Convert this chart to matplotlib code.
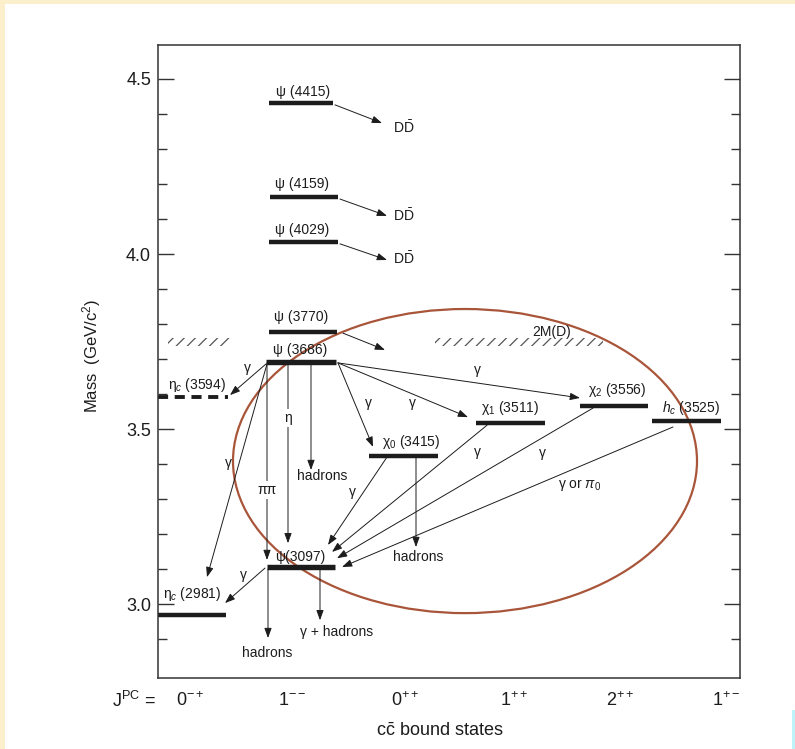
import matplotlib
matplotlib.use("Agg")
import matplotlib.pyplot as plt
from matplotlib.patches import Rectangle, Ellipse
import numpy as np

plt.rcParams['font.family'] = ['Liberation Sans', 'DejaVu Sans']
plt.rcParams['mathtext.fontset'] = 'custom'
plt.rcParams['mathtext.rm'] = 'Liberation Sans'
plt.rcParams['mathtext.it'] = 'Liberation Sans:italic'
plt.rcParams['mathtext.bf'] = 'Liberation Sans:bold'
plt.rcParams['hatch.linewidth'] = 0.9

# ---------------- data ----------------
state_labels = ['ψ (4415)', 'ψ (4159)', 'ψ (4029)', 'ψ (3770)', 'ψ (3686)',
                'η$_c$ (3594)', 'χ$_0$ (3415)', 'χ$_1$ (3511)', 'χ$_2$ (3556)',
                '$h_c$ (3525)', 'ψ(3097)', 'η$_c$ (2981)']
state_mass = [4.431, 4.163, 4.034, 3.777, 3.691, 3.591, 3.423, 3.517, 3.566,
              3.523, 3.106, 2.969]
state_x0 = [1.11, 1.12, 1.11, 1.11, 1.08, 0.00, 2.11, 3.18, 4.22, 4.94, 1.09, 0.00]
state_x1 = [1.75, 1.80, 1.80, 1.79, 1.78, 0.70, 2.80, 3.87, 4.90, 5.63, 1.77, 0.68]

jpc_labels = [r'$0^{-+}$', r'$1^{--}$', r'$0^{++}$', r'$1^{++}$', r'$2^{++}$', r'$1^{+-}$']
jpc_x = [0.18, 1.20, 2.33, 3.42, 4.48, 5.54]

ytick_values = [3.0, 3.5, 4.0, 4.5]
ytick_labels = ['3.0', '3.5', '4.0', '4.5']

# transitions: (x_start, m_start, x_end, m_end)
transitions = [
    (1.77, 4.426, 2.24, 4.374),
    (1.82, 4.157, 2.29, 4.109),
    (1.82, 4.029, 2.29, 3.983),
    (1.85, 3.774, 2.27, 3.726),
    (1.08, 3.686, 0.72, 3.597),
    (1.80, 3.689, 2.15, 3.449),
    (1.80, 3.689, 3.10, 3.534),
    (1.80, 3.689, 4.22, 3.589),
    (1.30, 3.686, 1.30, 3.174),
    (1.53, 3.686, 1.53, 3.383),
    (1.09, 3.689, 1.09, 3.126),
    (1.09, 3.686, 0.49, 3.077),
    (1.07, 3.103, 0.67, 3.003),
    (1.10, 3.100, 1.10, 2.903),
    (1.62, 3.100, 1.62, 2.954),
    (2.29, 3.420, 1.70, 3.169),
    (2.58, 3.420, 2.58, 3.163),
    (3.29, 3.511, 1.74, 3.149),
    (4.35, 3.560, 1.79, 3.131),
    (5.15, 3.506, 1.84, 3.106),
]

# decay-product / transition labels: (text, x, mass)
decay_texts = [
    (r'D$\bar{\mathrm{D}}$', 2.46, 4.360),
    (r'D$\bar{\mathrm{D}}$', 2.46, 4.111),
    (r'D$\bar{\mathrm{D}}$', 2.46, 3.986),
    ('γ', 0.89, 3.674), ('γ', 2.10, 3.574), ('γ', 2.54, 3.574),
    ('γ', 3.19, 3.669), ('γ', 0.70, 3.403), ('γ', 0.85, 3.083),
    ('γ', 1.94, 3.320), ('γ', 3.19, 3.434), ('γ', 3.84, 3.431),
    (r'γ or $\pi_0$', 4.22, 3.340),
    ('hadrons', 1.64, 3.366), ('hadrons', 2.60, 3.134),
    ('hadrons', 1.09, 2.860), ('γ + hadrons', 1.79, 2.920),
    ('2M(D)', 3.94, 3.777),
]
onlines_texts = [('η', 1.30, 3.531), ('ππ', 1.09, 3.326)]

threshold_mass = 3.749
threshold_spans = [(0.10, 0.72), (2.77, 4.45)]

# ---------------- figure ----------------
W, H = 795, 749
fig = plt.figure(figsize=(W / 100, H / 100), dpi=100, facecolor='white')
ax = fig.add_axes([158 / W, 1 - 678 / H, 582 / W, 633 / H])
ax.set_xlim(0, 5.82)
ax.set_ylim(2.789, 4.597)

ink = '#1c1c1c'
for sp in ax.spines.values():
    sp.set_linewidth(1.1)
    sp.set_color('#333333')

ax.set_xticks([])
ax.set_yticks(ytick_values)
ax.set_yticklabels(ytick_labels, fontsize=13, color=ink)
minor = [v for v in np.round(np.arange(2.9, 4.55, 0.1), 2) if v not in ytick_values]
ax.set_yticks(minor, minor=True)
ax.tick_params(axis='y', which='major', direction='in', length=11.5, width=1.0,
               right=True, pad=5, color='#333333')
ax.tick_params(axis='y', which='minor', direction='in', length=6.5, width=1.0,
               right=True, color='#333333')

# levels
for i, (lab, m, a, b) in enumerate(zip(state_labels, state_mass, state_x0, state_x1)):
    lw = 3.9 if lab in ('ψ (3686)', 'ψ(3097)') else 3.2
    if lab == 'η$_c$ (3594)':
        ax.hlines(m, a, b, colors=ink, lw=2.8, linestyles=(0, (2.6, 1.7)))
    else:
        ax.hlines(m, a, b, colors=ink, lw=lw, capstyle='butt')

label_offsets = [(2, 11), (-2, 13), (-1, 12), (-2, 15), (-1, 12), (4, 12),
                 (8, 14), (0, 15), (3, 16), (5, 13), (-1, 10), (0, 21)]
for lab, m, a, b, (dx, dy) in zip(state_labels, state_mass, state_x0, state_x1, label_offsets):
    ax.annotate(lab, xy=((a + b) / 2, m), xytext=(dx, dy), textcoords='offset pixels',
                ha='center', va='center', fontsize=10, color=ink)

# threshold hatching
for a, b in threshold_spans:
    ax.add_patch(Rectangle((a, threshold_mass - 0.011), b - a, 0.022, facecolor='none',
                           edgecolor='#555555', lw=0, hatch='///'))

# transitions
for xs, ms, xe, me in transitions:
    ax.annotate('', xy=(xe, me), xytext=(xs, ms),
                arrowprops=dict(arrowstyle='-|>,head_length=0.6,head_width=0.22',
                                lw=0.7, color=ink, shrinkA=0, shrinkB=0))

for t, x, m in decay_texts:
    ax.text(x, m, t, ha='center', va='center', fontsize=10, color=ink)
for t, x, m in onlines_texts:
    ax.text(x, m, t, ha='center', va='center', fontsize=10, color=ink,
            bbox=dict(facecolor='white', edgecolor='none', pad=1.5))

# highlight ellipse
ax.add_patch(Ellipse((3.07, 3.4086), 4.64, 0.8686, facecolor='none',
                     edgecolor='#A9553A', lw=1.6))

# bottom labels
ax.text(-0.46, -0.036, r'$\mathrm{J}^{\mathrm{PC}}$ =', transform=ax.get_xaxis_transform(),
        ha='left', va='center', fontsize=13, color=ink)
for t, x in zip(jpc_labels, jpc_x):
    ax.text(x, -0.036, t, transform=ax.get_xaxis_transform(), ha='left', va='center',
            fontsize=13, color=ink)
fig.text(440 / W, 1 - 731 / H, r'c$\bar{\mathrm{c}}$ bound states', ha='center', va='center',
         fontsize=13, color=ink)
fig.text(92 / W, 1 - 356 / H, r'Mass  (GeV/c$^{2}$)', rotation=90, ha='center',
         va='center', fontsize=12, color=ink)

# page decoration strips
fig.patches.append(Rectangle((0, 0), 5 / W, 1, transform=fig.transFigure,
                             facecolor='#FCEFCB', edgecolor='none'))
fig.patches.append(Rectangle((0, 1 - 4 / H), 1, 4 / H, transform=fig.transFigure,
                             facecolor='#FCEFCB', edgecolor='none'))
fig.patches.append(Rectangle((1 - 3 / W, 0), 3 / W, 39 / H, transform=fig.transFigure,
                             facecolor='#BDF3F9', edgecolor='none'))

fig.savefig('out.png', dpi=100, facecolor='white')
